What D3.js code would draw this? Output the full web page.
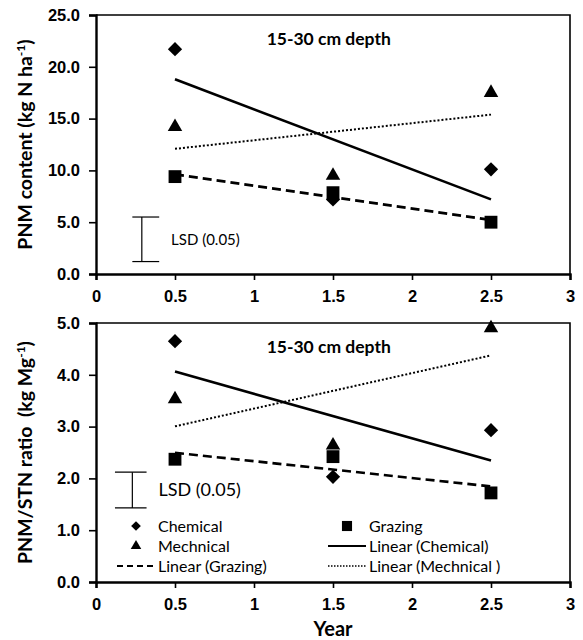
<!DOCTYPE html>
<html>
<head>
<meta charset="utf-8">
<script src="https://cdn.jsdelivr.net/npm/d3@7"></script>
<style>
  body { margin: 0; background: #fff; }
  svg { display: block; font-family: Lato, "Open Sans", sans-serif; }
</style>
</head>
<body>
<div id="chart"></div>
<script>
// Data
const years = [0.5, 1.5, 2.5];
const xTicks = [0, 0.5, 1, 1.5, 2, 2.5, 3];

const pnmChemical   = [21.7, 7.2, 10.1];
const pnmMechanical = [14.2, 9.5, 17.5];
const pnmGrazing    = [9.4, 7.85, 5.0];
const pnmTicks      = [0, 5, 10, 15, 20, 25];
const pnmLsd        = [1.2, 5.5];

const ratioChemical   = [4.65, 2.03, 2.93];
const ratioMechanical = [3.53, 2.64, 4.9];
const ratioGrazing    = [2.37, 2.42, 1.72];
const ratioTicks      = [0, 1, 2, 3, 4, 5];
const ratioLsd        = [1.43, 2.12];

const legendNames = ['Chemical', 'Grazing', 'Mechnical', 'Linear (Chemical)', 'Linear (Grazing)', 'Linear (Mechnical )'];

const W = 583, H = 640;
const X0 = 96, X1 = 570;

const svg = d3.select('#chart').append('svg').attr('width', W).attr('height', H);

const x = d3.scaleLinear().domain([0, 3]).range([X0, X1]);

// least-squares fit for the Excel "Linear" trend lines
function fit(xs, ys) {
  const mx = d3.mean(xs), my = d3.mean(ys);
  const b = d3.sum(xs, (v, i) => (v - mx) * (ys[i] - my)) / d3.sum(xs, v => (v - mx) ** 2);
  return v => my + b * (v - mx);
}

const SYM = {
  diamond:  d3.symbol().type(d3.symbolDiamond2),
  triangle: d3.symbol().type(d3.symbolTriangle2),
  square:   d3.symbol().type(d3.symbolSquare2)
};

const LINE_STYLE = {
  solid:  null,
  dashed: '9,5',
  dotted: '2,2'
};

function drawPanel(cfg) {
  const y = d3.scaleLinear().domain([0, cfg.max]).range([cfg.bottom, cfg.top]);
  const g = svg.append('g');

  // frame (top/right)
  g.append('path')
    .attr('d', `M${X0},${cfg.top}H${X1}V${cfg.bottom}`)
    .attr('fill', 'none').attr('stroke', '#000').attr('stroke-width', 1.6);

  // axes
  g.append('g').attr('transform', `translate(${X0},0)`)
    .call(d3.axisLeft(y).tickValues(cfg.ticks).tickFormat(d3.format('.1f')).tickSize(7).tickPadding(9))
    .call(ax => ax.select('.domain').attr('stroke-width', 2.4))
    .call(ax => ax.selectAll('line').attr('stroke-width', 1.6))
    .selectAll('text').style('font-size', '16.5px').style('font-weight', 'bold').attr('fill', '#000');

  g.append('g').attr('transform', `translate(0,${cfg.bottom})`)
    .call(d3.axisBottom(x).tickValues(xTicks).tickFormat(d => d).tickSize(6).tickPadding(10))
    .call(ax => ax.select('.domain').attr('stroke-width', 2.4))
    .call(ax => ax.selectAll('line').attr('stroke-width', 1.6))
    .selectAll('text').style('font-size', '16.5px').style('font-weight', 'bold').attr('fill', '#000');

  // y axis label
  const yl = g.append('text')
    .attr('transform', `translate(${cfg.labelX},${(cfg.top + cfg.bottom) / 2}) rotate(-90)`)
    .attr('text-anchor', 'middle')
    .style('font-size', '19.5px').style('font-weight', 'bold');
  yl.append('tspan').text(cfg.label[0]);
  yl.append('tspan').attr('dy', -7).style('font-size', '12px').text(cfg.label[1]);
  yl.append('tspan').attr('dy', 7).text(cfg.label[2]);

  // title
  g.append('text').attr('x', x(1.08)).attr('y', cfg.top + 30)
    .style('font-size', '17.5px').style('font-weight', 'bold').text('15-30 cm depth');

  // LSD bar
  const lx = x(cfg.lsdX[1]);
  const lsd = g.append('g').attr('stroke', '#000').attr('stroke-width', 1.2);
  lsd.append('line').attr('x1', lx).attr('x2', lx).attr('y1', y(cfg.lsd[0])).attr('y2', y(cfg.lsd[1]));
  cfg.lsd.forEach(v => lsd.append('line')
    .attr('x1', x(cfg.lsdX[0])).attr('x2', x(cfg.lsdX[2])).attr('y1', y(v)).attr('y2', y(v)));
  g.append('text').attr('x', x(cfg.lsdX[3])).attr('y', y(d3.mean(cfg.lsd)) + cfg.lsdFont * 0.35)
    .style('font-size', cfg.lsdFont + 'px').text('LSD (0.05)');

  // trend lines
  cfg.series.forEach(s => {
    const f = fit(years, s.values);
    g.append('line')
      .attr('x1', x(years[0])).attr('x2', x(years[years.length - 1]))
      .attr('y1', y(f(years[0]))).attr('y2', y(f(years[years.length - 1])))
      .attr('stroke', '#000').attr('stroke-width', s.line === 'dotted' ? 2 : 2.6)
      .attr('stroke-dasharray', LINE_STYLE[s.line]);
  });

  // markers
  cfg.series.forEach(s => {
    g.selectAll(null).data(s.values).join('path')
      .attr('transform', (d, i) => `translate(${x(years[i])},${y(d)})`)
      .attr('d', SYM[s.symbol].size(s.size)())
      .attr('fill', '#000');
  });

  return y;
}

const seriesStyle = [
  { symbol: 'diamond',  line: 'solid',  size: 130 },
  { symbol: 'triangle', line: 'dotted', size: 150 },
  { symbol: 'square',   line: 'dashed', size: 210 }
];

drawPanel({
  top: 15, bottom: 274, max: 25, ticks: pnmTicks, labelX: 32,
  label: ['PNM content (kg N ha', '-1', ')'],
  lsd: pnmLsd, lsdX: [0.23, 0.29, 0.4, 0.475], lsdFont: 15,
  series: [pnmChemical, pnmMechanical, pnmGrazing].map((v, i) => ({ ...seriesStyle[i], values: v }))
});

drawPanel({
  top: 323, bottom: 582, max: 5, ticks: ratioTicks, labelX: 32,
  label: ['PNM/STN ratio\u00a0\u00a0(kg Mg', '-1', ')'],
  lsd: ratioLsd, lsdX: [0.12, 0.23, 0.32, 0.395], lsdFont: 18,
  series: [ratioChemical, ratioMechanical, ratioGrazing].map((v, i) => ({ ...seriesStyle[i], values: v }))
});

// legend (two columns, row-major like Excel)
const legendKeys = [
  { symbol: 'diamond', size: 60 }, { symbol: 'square', size: 130 },
  { symbol: 'triangle', size: 80 }, { line: 'solid' },
  { line: 'dashed' }, { line: 'dotted' }
];
const legCols = [{ mark: 136, text: 158, l0: 117, l1: 157 }, { mark: 347, text: 369, l0: 328, l1: 366 }];
const legRows = [526, 546, 566];
const leg = svg.append('g');
legendNames.forEach((name, i) => {
  const c = legCols[i % 2], ry = legRows[Math.floor(i / 2)], k = legendKeys[i];
  if (k.symbol) {
    leg.append('path').attr('transform', `translate(${c.mark},${ry})`)
      .attr('d', SYM[k.symbol].size(k.size)()).attr('fill', '#000');
  } else {
    leg.append('line').attr('x1', c.l0).attr('x2', c.l1).attr('y1', ry).attr('y2', ry)
      .attr('stroke', '#000').attr('stroke-width', k.line === 'dotted' ? 1.6 : 2)
      .attr('stroke-dasharray', k.line === 'dashed' ? '6,4' : k.line === 'dotted' ? '1.5,1.5' : null);
  }
  leg.append('text').attr('x', c.text).attr('y', ry + 5.5).style('font-size', '16px').text(name);
});

// x axis title
svg.append('text').attr('x', (X0 + X1) / 2).attr('y', 636).attr('text-anchor', 'middle')
  .style('font-size', '20px').style('font-weight', 'bold').text('Year');
</script>
</body>
</html>
